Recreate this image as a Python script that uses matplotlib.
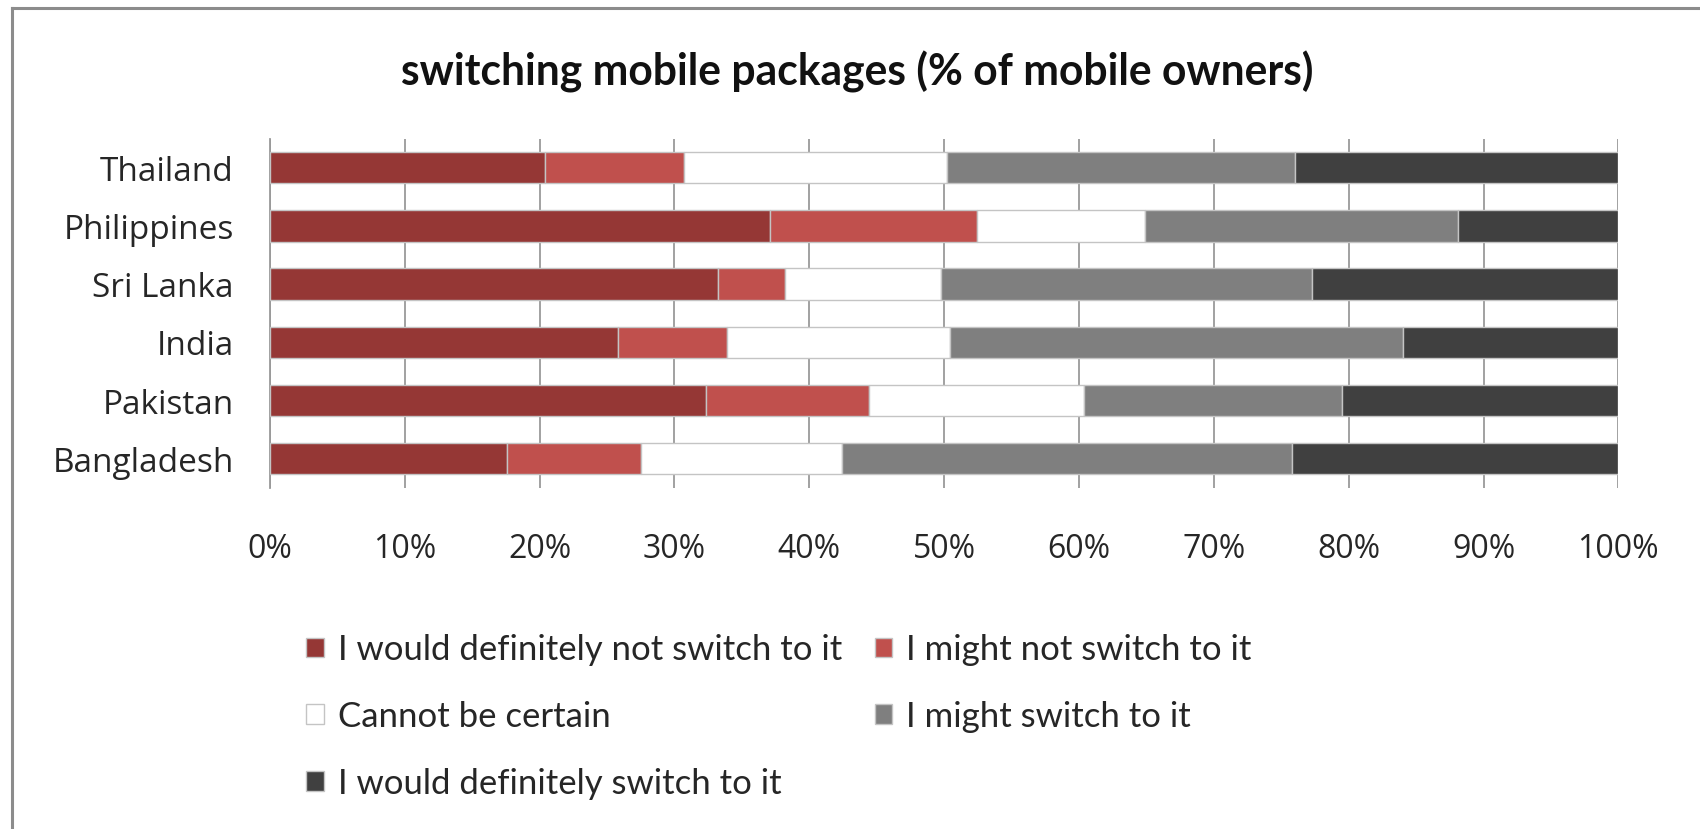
import numpy as np
import matplotlib.pyplot as plt
from matplotlib.lines import Line2D

countries = ["Thailand", "Philippines", "Sri Lanka", "India", "Pakistan", "Bangladesh"]

def_not = [20.4, 37.1, 33.2, 25.8, 32.3, 17.6]
might_not = [10.3, 15.3, 5.0, 8.1, 12.1, 9.9]
not_certain = [19.5, 12.5, 11.6, 16.5, 16.0, 14.9]
might = [25.8, 23.2, 27.5, 33.6, 19.1, 33.4]
def_yes = [24.0, 11.9, 22.7, 16.0, 20.5, 24.2]

labels = ["I would definitely not switch to it", "I might not switch to it",
          "Cannot be certain", "I might switch to it", "I would definitely switch to it"]
colors = ["#953735", "#c0504d", "#ffffff", "#7f7f7f", "#404040"]

series = [def_not, might_not, not_certain, might, def_yes]

fig = plt.figure(figsize=(17, 8.295), dpi=100)
ax = fig.add_axes([0.1588, 0.4113, 0.7932, 0.421])

y = np.arange(len(countries))
left = np.zeros(len(countries))
handles = []
for vals, lab, col in zip(series, labels, colors):
    vals = np.array(vals)
    b = ax.barh(y, vals, left=left, height=0.54, color=col, label=lab,
                edgecolor="#c4c4c4", linewidth=1.0, zorder=3)
    handles.append(b)
    left = left + vals

ax.set_xlim(0, 100)
ax.set_ylim(len(countries) - 0.5, -0.5)
ax.set_xticks(np.arange(0, 101, 10))
ax.set_xticklabels([f"{v}%" for v in range(0, 101, 10)])
ax.set_yticks(y)
ax.set_yticklabels(countries)

ax.grid(axis="x", color="#9a9a9a", linewidth=1.3, zorder=0)
for s in ["top", "right", "bottom"]:
    ax.spines[s].set_visible(False)
ax.spines["left"].set_color("#9a9a9a")
ax.spines["left"].set_linewidth(1.3)

ax.tick_params(axis="x", length=0, pad=32, labelsize=23, labelcolor="#262626")
ax.tick_params(axis="y", length=0, pad=26, labelsize=24, labelcolor="#262626")
for t in ax.get_xticklabels() + ax.get_yticklabels():
    t.set_fontfamily("Open Sans")

fig.text(0.504, 0.913, "switching mobile packages (% of mobile owners)",
         ha="center", va="center", fontsize=30.7, fontweight="bold",
         family="Lato", color="#111111")

# legend laid out row by row like the original
order = [0, 2, 4, 1, 3]
leg = fig.legend([handles[i] for i in order], [labels[i] for i in order],
                 ncol=2, loc="upper left", bbox_to_anchor=(0.1700, 0.2563),
                 frameon=False, prop={"family": "Lato", "size": 25},
                 handlelength=0.5, handleheight=0.5, handletextpad=0.4,
                 labelspacing=1.0, columnspacing=0.95, borderpad=0)
for t in leg.get_texts():
    t.set_color("#262626")

# chart frame (top and left edges visible)
fig.add_artist(Line2D([12 / 1700, 1.0], [1 - 8 / 829, 1 - 8 / 829],
                      transform=fig.transFigure, color="#8c8c8c", linewidth=2.2))
fig.add_artist(Line2D([12 / 1700, 12 / 1700], [0, 1 - 8 / 829],
                      transform=fig.transFigure, color="#8c8c8c", linewidth=2.2))

fig.savefig("out.png", dpi=100)
